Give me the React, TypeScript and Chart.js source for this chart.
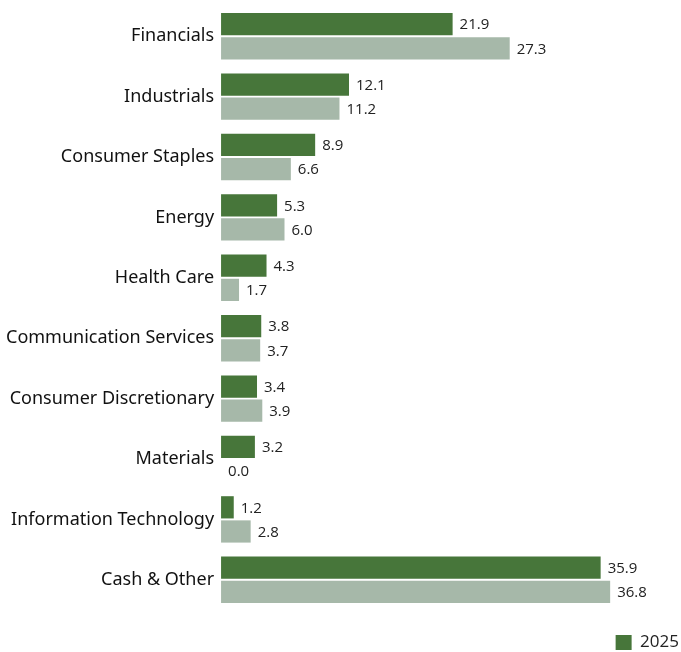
import React, { useEffect, useRef } from "react";
import { Chart, registerables } from "chart.js";

Chart.register(...registerables);

const categories = [
  "Financials",
  "Industrials",
  "Consumer Staples",
  "Energy",
  "Health Care",
  "Communication Services",
  "Consumer Discretionary",
  "Materials",
  "Information Technology",
  "Cash & Other",
];
const series2025 = [21.9, 12.1, 8.9, 5.3, 4.3, 3.8, 3.4, 3.2, 1.2, 35.9];
const seriesPrior = [27.3, 11.2, 6.6, 6.0, 1.7, 3.7, 3.9, 0.0, 2.8, 36.8];
const seriesLabels = ["2025", "Prior"];

const valueLabels = {
  id: "valueLabels",
  afterDatasetsDraw(chart: any) {
    const ctx = chart.ctx;
    ctx.save();
    ctx.font = '15px "Open Sans"';
    ctx.fillStyle = "#222";
    ctx.textAlign = "left";
    ctx.textBaseline = "middle";
    chart.data.datasets.forEach((ds: any, di: number) => {
      const meta = chart.getDatasetMeta(di);
      meta.data.forEach((bar: any, i: number) => {
        const v = ds.data[i];
        ctx.fillText(v.toFixed(1), bar.x + 7, bar.y + 1);
      });
    });
    ctx.restore();
  },
};

export default function App() {
  const ref = useRef<HTMLCanvasElement>(null);
  useEffect(() => {
    const chart = new Chart(ref.current!, {
      type: "bar",
      data: {
        labels: categories,
        datasets: [
          {
            label: seriesLabels[0],
            data: series2025,
            backgroundColor: "#47763a",
            barPercentage: 0.92,
            categoryPercentage: 0.8,
          },
          {
            label: seriesLabels[1],
            data: seriesPrior,
            backgroundColor: "#a6b8a9",
            barPercentage: 0.92,
            categoryPercentage: 0.8,
          },
        ],
      },
      options: {
        indexAxis: "y",
        animation: false,
        responsive: true,
        maintainAspectRatio: false,
        layout: { padding: { top: 6, right: 0, bottom: -9, left: -1 } },
        scales: {
          x: {
            display: true,
            min: 0,
            max: 43.5,
            grid: { display: false, drawTicks: false },
            border: { display: false },
            ticks: { display: false },
            afterFit: (scale: any) => {
              scale.height = 22;
            },
          },
          y: {
            grid: { display: false, drawTicks: false },
            border: { display: false },
            ticks: {
              color: "#111",
              font: { family: '"Noto Sans"', size: 18 },
              padding: 7,
            },
            afterFit: (scale: any) => {
              scale.paddingTop = 0;
              scale.paddingBottom = 0;
            },
          },
        },
        plugins: {
          tooltip: { enabled: false },
          legend: {
            position: "bottom",
            align: "end",
            labels: {
              filter: (item: any) => item.datasetIndex === 0,
              boxWidth: 16,
              boxHeight: 15,
              color: "#222",
              font: { family: '"Open Sans"', size: 17 },
              padding: 2,
            },
          },
        },
      },
      plugins: [valueLabels],
    });
    return () => chart.destroy();
  }, []);
  return (
    <div style={{ position: "absolute", left: 0, top: 0, width: 681, height: 652 }}>
      <canvas ref={ref} />
    </div>
  );
}
